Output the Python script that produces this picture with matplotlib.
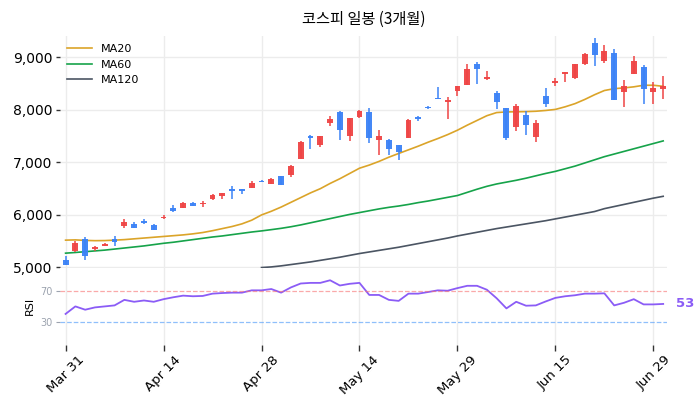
import matplotlib.pyplot as plt
import numpy as np

plt.rcParams['font.family'] = ['DejaVu Sans', 'Noto Sans CJK KR']

# 일봉 데이터 (open, high, low, close) - 62 거래일
opens = [5146, 5316, 5538, 5350, 5418, 5538, 5791, 5829, 5880, 5810,
         5943, 6133, 6139, 6228, 6203, 6297, 6367, 6487, 6487, 6519,
         6646, 6595, 6741, 6766, 7070, 7500, 7335, 7759, 7956, 7500,
         7867, 7956, 7430, 7430, 7329, 7468, 7861, 8063, 8234, 8152,
         8361, 8475, 8880, 8595, 8316, 8044, 7677, 7899, 7487, 8259,
         8513, 8684, 8608, 8873, 9278, 8930, 9076, 8342, 8684, 8810,
         8348, 8392]
closes = [5038, 5462, 5222, 5380, 5455, 5481, 5873, 5759, 5842, 5722,
          5962, 6076, 6228, 6177, 6222, 6380, 6411, 6462, 6462, 6601,
          6627, 6684, 6576, 6930, 7386, 7468, 7500, 7823, 7620, 7842,
          7981, 7468, 7513, 7259, 7203, 7804, 7823, 8032, 8209, 8184,
          8462, 8785, 8778, 8633, 8158, 7468, 8082, 7715, 7759, 8114,
          8544, 8715, 8867, 9057, 9044, 9114, 8184, 8462, 8924, 8399,
          8411, 8462]
highs = [5222, 5506, 5576, 5411, 5475, 5601, 5930, 5861, 5924, 5830,
         6006, 6196, 6240, 6240, 6270, 6390, 6420, 6551, 6500, 6650,
         6675, 6700, 6745, 6950, 7410, 7525, 7500, 7880, 7987, 7855,
         7995, 8038, 7626, 7440, 7329, 7823, 7875, 8075, 8437, 8247,
         8462, 8867, 8911, 8740, 8367, 8044, 8110, 7987, 7800, 8424,
         8600, 8730, 8880, 9080, 9373, 9240, 9165, 8576, 9030, 8850,
         8540, 8652]
lows = [5038, 5285, 5146, 5316, 5400, 5418, 5759, 5745, 5830, 5710,
        5930, 6060, 6130, 6170, 6160, 6285, 6310, 6297, 6399, 6519,
        6620, 6580, 6576, 6720, 7070, 7247, 7300, 7700, 7418, 7400,
        7840, 7361, 7133, 7133, 7044, 7468, 7780, 8010, 8209, 7835,
        8270, 8475, 8500, 8570, 8025, 7420, 7590, 7532, 7380, 8063,
        8450, 8530, 8580, 8850, 8829, 8890, 8184, 8063, 8684, 8120,
        8120, 8209]

ma20 = [5520, 5525, 5515, 5510, 5512, 5520, 5530, 5545, 5560, 5575,
        5590, 5605, 5620, 5640, 5665, 5700, 5740, 5780, 5830, 5900,
        6000, 6070, 6150, 6240, 6330, 6420, 6500, 6600, 6690, 6790,
        6890, 6950, 7020, 7100, 7171, 7240, 7310, 7385, 7455, 7530,
        7614, 7710, 7800, 7890, 7950, 7962, 7965, 7968, 7975, 7990,
        8010, 8060, 8120, 8200, 8290, 8370, 8405, 8420, 8440, 8470,
        8470, 8450]
ma60 = [5272, 5285, 5300, 5315, 5330, 5350, 5370, 5390, 5410, 5435,
        5460, 5480, 5505, 5530, 5555, 5580, 5600, 5625, 5650, 5675,
        5696, 5720, 5745, 5775, 5810, 5850, 5890, 5930, 5970, 6010,
        6045, 6080, 6115, 6145, 6170, 6200, 6235, 6265, 6300, 6335,
        6370, 6430, 6490, 6545, 6590, 6625, 6660, 6700, 6745, 6790,
        6830, 6880, 6930, 6990, 7050, 7110, 7160, 7210, 7260, 7310,
        7360, 7410]
ma120 = [np.nan] * 20 + [
        4998, 5010, 5030, 5055, 5080, 5105, 5135, 5165, 5195, 5230,
        5265, 5295, 5325, 5355, 5385, 5420, 5455, 5490, 5525, 5560,
        5600, 5635, 5670, 5705, 5740, 5770, 5800, 5830, 5860, 5890,
        5925, 5960, 5995, 6030, 6065, 6120, 6160, 6200, 6240, 6280,
        6320, 6355]

rsi = [40.2, 50.0, 45.7, 48.7, 50.0, 51.3, 58.5, 56.0, 57.7, 56.0,
       59.4, 61.9, 64.0, 63.2, 63.6, 66.6, 67.4, 67.9, 67.9, 70.9,
       70.9, 72.6, 67.9, 74.7, 79.8, 80.6, 80.6, 84.0, 77.2, 79.4,
       80.6, 64.9, 64.9, 58.5, 57.2, 66.6, 66.6, 68.7, 70.9, 70.4,
       73.8, 76.8, 76.8, 71.7, 60.6, 47.4, 56.0, 50.9, 51.3, 56.4,
       61.1, 63.2, 64.5, 66.6, 66.6, 67.0, 51.3, 54.7, 59.4, 52.6,
       52.6, 53.2]

tick_pos = [0, 10, 20, 30, 40, 50, 60]
tick_labels = ['Mar 31', 'Apr 14', 'Apr 28', 'May 14', 'May 29', 'Jun 15', 'Jun 29']

UP = '#ef4444'
DOWN = '#3b82f6'
GRID = '#ececec'

fig = plt.figure(figsize=(7, 4.11), dpi=100)
ax = fig.add_axes([0.085, 0.348, 0.868, 0.564])
ax_r = fig.add_axes([0.085, 0.161, 0.868, 0.187], sharex=ax)

x = np.arange(len(opens))
o = np.array(opens); c = np.array(closes)
colors = [UP if cc >= oo else DOWN for oo, cc in zip(o, c)]

# 심지
ax.vlines(x, lows, highs, colors=colors, linewidth=1.1, zorder=3)
# 몸통 (너무 얇은 건 최소 높이)
body_h = np.abs(c - o)
body_h = np.where(body_h < 15, 15, body_h)
ax.bar(x, body_h, bottom=np.minimum(o, c), width=0.6, color=colors,
       alpha=0.95, zorder=4)

ax.plot(x, ma20, color='#dba429', lw=1.2, label='MA20', zorder=2)
ax.plot(x, ma60, color='#16a34a', lw=1.2, label='MA60', zorder=2)
ax.plot(x, ma120, color='#4b5563', lw=1.2, label='MA120', zorder=2)

ax.set_ylim(4990, 9405)
ax.set_xlim(-0.62, 61.4)
ax.set_yticks([5000, 6000, 7000, 8000, 9000])
ax.set_yticklabels(['5,000', '6,000', '7,000', '8,000', '9,000'])
ax.grid(True, color=GRID, lw=1)
ax.set_axisbelow(True)
for s in ax.spines.values():
    s.set_visible(False)
ax.tick_params(axis='y', length=3, width=1, labelsize=10, pad=2, color='#333333')
ax.tick_params(axis='x', length=0, labelbottom=False)
ax.set_title('코스피 일봉 (3개월)', family=['Noto Sans CJK KR', 'DejaVu Sans'],
             fontsize=11, pad=9)
ax.legend(loc='upper left', frameon=False, fontsize=8, handlelength=2.2,
          borderaxespad=0.3, labelspacing=0.5)

# RSI
ax_r.plot(x, rsi, color='#8b5cf6', lw=1.3)
ax_r.axhline(70, color='#f87171', lw=0.9, ls='--', alpha=0.6)
ax_r.axhline(30, color='#60a5fa', lw=0.9, ls='--', alpha=0.7)
ax_r.set_ylim(0, 100)
ax_r.set_yticks([30, 70])
ax_r.tick_params(axis='y', length=3, labelsize=7, labelcolor='#9ca3af',
                 color='#9ca3af', pad=2)
ax_r.set_ylabel('RSI', fontsize=8, labelpad=4)
ax_r.grid(True, axis='x', color=GRID, lw=1)
ax_r.set_axisbelow(True)
for s in ax_r.spines.values():
    s.set_visible(False)
ax_r.set_xticks(tick_pos)
ax_r.set_xticklabels(tick_labels, rotation=45, fontsize=9.5)
ax_r.tick_params(axis='x', length=4, width=1, color='#333333', pad=2)
ax_r.annotate(f'{int(rsi[-1])}', xy=(x[-1], rsi[-1]), xytext=(9, 0),
              textcoords='offset points', color='#8b5cf6', fontsize=9.5,
              fontweight='bold', va='center', ha='left', annotation_clip=False)

fig.savefig('out.png', dpi=100)
